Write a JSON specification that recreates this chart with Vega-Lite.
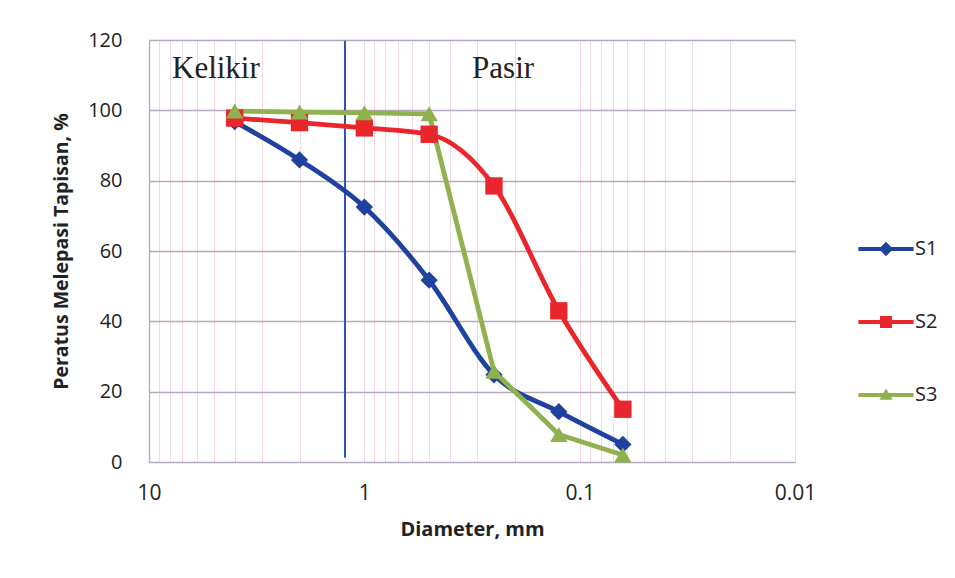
{
  "$schema": "https://vega.github.io/schema/vega-lite/v6.json",
  "width": 646,
  "height": 422,
  "autosize": {"type": "none"},
  "padding": {"left": 149, "top": 40, "right": 160, "bottom": 116},
  "background": "white",
  "config": {
    "view": {"stroke": null},
    "font": "Open Sans",
    "axis": {"labelFont": "Open Sans", "titleFont": "Open Sans", "labelColor": "#222", "titleColor": "#222"}
  },
  "datasets": {
    "series": [
      {"d": 4, "p": 96.8, "s": "S1"},
      {"d": 2, "p": 85.9, "s": "S1"},
      {"d": 1, "p": 72.5, "s": "S1"},
      {"d": 0.5, "p": 51.7, "s": "S1"},
      {"d": 0.25, "p": 24.8, "s": "S1"},
      {"d": 0.125, "p": 14.3, "s": "S1"},
      {"d": 0.063, "p": 5.0, "s": "S1"},
      {"d": 4, "p": 97.8, "s": "S2"},
      {"d": 2, "p": 96.5, "s": "S2"},
      {"d": 1, "p": 95.0, "s": "S2"},
      {"d": 0.5, "p": 93.2, "s": "S2"},
      {"d": 0.25, "p": 78.5, "s": "S2"},
      {"d": 0.125, "p": 43.0, "s": "S2"},
      {"d": 0.063, "p": 15.0, "s": "S2"},
      {"d": 4, "p": 99.8, "s": "S3"},
      {"d": 2, "p": 99.5, "s": "S3"},
      {"d": 1, "p": 99.3, "s": "S3"},
      {"d": 0.5, "p": 99.0, "s": "S3"},
      {"d": 0.25, "p": 25.8, "s": "S3"},
      {"d": 0.125, "p": 7.8, "s": "S3"},
      {"d": 0.063, "p": 2.0, "s": "S3"}
    ],
    "labels": [
      {"d": 7.82, "p": 109.2, "t": "Kelikir"},
      {"d": 0.316, "p": 109.2, "t": "Pasir"}
    ],
    "divider": [
      {"d": 1.23, "p": 1.2, "p2": 119.8}
    ]
  },
  "layer": [
    {
      "data": {"name": "divider"},
      "mark": {"type": "rule", "color": "#2f52b0", "strokeWidth": 2},
      "encoding": {
        "x": {
          "field": "d", "type": "quantitative",
          "scale": {"type": "log", "domain": [10, 0.01], "nice": false},
          "axis": {
            "title": "Diameter, mm",
            "titleFontSize": 20, "titleFontWeight": "bold", "titlePadding": 16,
            "labelFontSize": 21, "labelPadding": 20,
            "values": [10, 9, 8, 7, 6, 5, 4, 3, 2, 1, 0.9, 0.8, 0.7, 0.6, 0.5, 0.4, 0.3, 0.2, 0.1, 0.09, 0.08, 0.07, 0.06, 0.05, 0.04, 0.03, 0.02, 0.01],
            "labelExpr": "indexof([10, 1, 0.1, 0.01], datum.value) >= 0 ? datum.label : ''",
            "ticks": false,
            "domain": false,
            "grid": true, "gridColor": "#efd9e2", "gridWidth": 1,
            "labelFlush": false, "labelOverlap": false
          }
        },
        "y": {
          "field": "p", "type": "quantitative",
          "scale": {"domain": [0, 120], "nice": false},
          "axis": {
            "title": "Peratus Melepasi Tapisan, %",
            "titleFontSize": 19.5, "titleFontWeight": "bold", "titlePadding": 16,
            "labelFontSize": 20, "labelPadding": 27,
            "values": [0, 20, 40, 60, 80, 100, 120],
            "ticks": false,
            "domain": true, "domainColor": "#b7a7c0", "domainWidth": 1.3,
            "grid": true, "gridColor": "#b7a7c0", "gridWidth": 1.3
          }
        },
        "y2": {"field": "p2"}
      }
    },
    {
      "data": {"name": "series"},
      "transform": [{"filter": "datum.s !== 'S3'"}],
      "mark": {"type": "line", "interpolate": "monotone", "strokeWidth": 4.8},
      "encoding": {
        "x": {"field": "d", "type": "quantitative"},
        "y": {"field": "p", "type": "quantitative"},
        "color": {
          "field": "s", "type": "nominal",
          "scale": {"domain": ["S1", "S2", "S3"], "range": ["#1f42a0", "#e8262b", "#8fb24f"]},
          "legend": {
            "title": null,
            "orient": "none",
            "legendX": 727,
            "legendY": 199,
            "padding": 0,
            "symbolType": "circle",
            "symbolSize": 144,
            "symbolStrokeWidth": 0,
            "symbolOpacity": 1,
            "labelFontSize": 20,
            "labelFont": "Open Sans",
            "labelColor": "#222",
            "labelOffset": 19,
            "rowPadding": 53,
            "encode": {
              "symbols": {
                "enter": {
                  "shape": {"signal": "datum.value === 'S1' ? 'M-4.6,-0.35L4.6,-0.35L4.6,0.35L-4.6,0.35Z M0,-1.2L1.2,0L0,1.2L-1.2,0Z' : datum.value === 'S2' ? 'M-4.6,-0.35L4.6,-0.35L4.6,0.35L-4.6,0.35Z M-1,-1L1,-1L1,1L-1,1Z' : 'M-4.6,-0.35L4.6,-0.35L4.6,0.35L-4.6,0.35Z M0,-1.1L1.1,0.8L-1.1,0.8Z'"}
                },
                "update": {
                  "fill": {"signal": "scale('color', datum.value)"},
                  "strokeWidth": {"value": 0},
                  "shape": {"signal": "datum.value === 'S1' ? 'M-4.6,-0.35L4.6,-0.35L4.6,0.35L-4.6,0.35Z M0,-1.2L1.2,0L0,1.2L-1.2,0Z' : datum.value === 'S2' ? 'M-4.6,-0.35L4.6,-0.35L4.6,0.35L-4.6,0.35Z M-1,-1L1,-1L1,1L-1,1Z' : 'M-4.6,-0.35L4.6,-0.35L4.6,0.35L-4.6,0.35Z M0,-1.1L1.1,0.8L-1.1,0.8Z'"}
                }
              }
            }
          }
        },
        "detail": {"field": "s"}
      }
    },
    {
      "data": {"name": "series"},
      "transform": [{"filter": "datum.s === 'S3'"}],
      "mark": {"type": "line", "interpolate": "linear", "strokeWidth": 4.8, "strokeJoin": "round"},
      "encoding": {
        "x": {"field": "d", "type": "quantitative"},
        "y": {"field": "p", "type": "quantitative"},
        "color": {"field": "s", "type": "nominal"}
      }
    },
    {
      "data": {"name": "series"},
      "transform": [{"filter": "datum.s === 'S1'"}],
      "mark": {"type": "point", "shape": "diamond", "filled": true, "opacity": 1, "size": 300},
      "encoding": {
        "x": {"field": "d", "type": "quantitative"},
        "y": {"field": "p", "type": "quantitative"},
        "color": {"field": "s", "type": "nominal"}
      }
    },
    {
      "data": {"name": "series"},
      "transform": [{"filter": "datum.s === 'S2'"}],
      "mark": {"type": "point", "shape": "square", "filled": true, "opacity": 1, "size": 300},
      "encoding": {
        "x": {"field": "d", "type": "quantitative"},
        "y": {"field": "p", "type": "quantitative"},
        "color": {"field": "s", "type": "nominal"}
      }
    },
    {
      "data": {"name": "series"},
      "transform": [{"filter": "datum.s === 'S3'"}],
      "mark": {"type": "point", "shape": "triangle-up", "filled": true, "opacity": 1, "size": 300},
      "encoding": {
        "x": {"field": "d", "type": "quantitative"},
        "y": {"field": "p", "type": "quantitative"},
        "color": {"field": "s", "type": "nominal"}
      }
    },
    {
      "data": {"name": "labels"},
      "mark": {"type": "text", "font": "Liberation Serif", "fontSize": 31, "align": "left", "baseline": "alphabetic", "color": "#222"},
      "encoding": {
        "x": {"field": "d", "type": "quantitative"},
        "y": {"field": "p", "type": "quantitative"},
        "text": {"field": "t"}
      }
    }
  ]
}
